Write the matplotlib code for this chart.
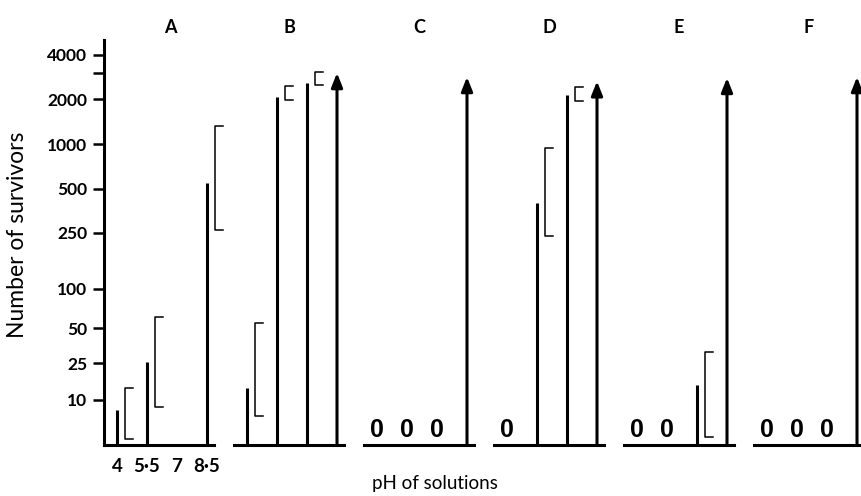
import numpy as np
import matplotlib
matplotlib.use("Agg")
import matplotlib.pyplot as plt

plt.rcParams["font.family"] = ["Lato", "DejaVu Sans"]

PANELS = ["A", "B", "C", "D", "E", "F"]
PH = [4, 5.5, 7, 8.5]
PH_LABELS = ["4", "5·5", "7", "8·5"]

# survivors per pH; None = not shown, "up" = too many (arrow)
COUNTS = [
    [7, 26, None, 550],
    [14, 2080, 2580, "up"],
    [0, 0, 0, "up"],
    [0, 400, 2150, "up"],
    [0, 0, 15, "up"],
    [0, 0, 0, "up"],
]
CI_LOW = [
    [1, 8, None, 260],
    [5.6, 1985, 2500, None],
    [None, None, None, None],
    [None, 237, 1954, None],
    [None, None, 1.3, None],
    [None, None, None, None],
]
CI_HIGH = [
    [14, 61, None, 1330],
    [55, 2460, 3060, None],
    [None, None, None, None],
    [None, 945, 2426, None],
    [None, None, 32, None],
    [None, None, None, None],
]
ARROW_TOP = [None, 3010, 2830, 2650, 2790, 2830]

Y_TICKS = [10, 25, 50, 100, 250, 500, 1000, 2000, 4000]


def fwd(v):
    return np.log10(np.maximum(np.asarray(v, dtype=float) + 10, 1e-3))


def inv(v):
    return 10 ** np.asarray(v, dtype=float) - 10


W, H = 861, 496
fig = plt.figure(figsize=(W / 100, H / 100), dpi=100)

for i, name in enumerate(PANELS):
    ax = fig.add_axes([(104 + 130 * i) / W, (H - 445) / H, 110 / W, 405 / H])
    ax.set_yscale("function", functions=(fwd, inv))
    ax.set_ylim(0, 5000)
    ax.set_xlim(3.35, 8.85)
    for s in ["top", "right"]:
        ax.spines[s].set_visible(False)
    ax.spines["bottom"].set_linewidth(2.2)
    ax.set_title(name, fontsize=13, pad=5, fontweight="bold",
                 x=0.6 if i == 0 else 0.5)

    if i == 0:
        ax.spines["left"].set_linewidth(2.2)
        ax.set_yticks(Y_TICKS)
        ax.set_yticklabels([str(t) for t in Y_TICKS], fontsize=12.5,
                           fontweight="bold")
        ax.set_yticks([3000], minor=True)
        ax.tick_params(axis="y", which="both", length=8, width=1.8, pad=4)
        ax.set_xticks(PH)
        ax.set_xticklabels(PH_LABELS, fontsize=13.5, fontweight="bold")
        ax.tick_params(axis="x", length=0, pad=9)
    else:
        ax.spines["left"].set_visible(False)
        ax.set_yticks([])
        ax.set_yticks([], minor=True)
        ax.set_xticks([])

    for j, ph in enumerate(PH):
        c = COUNTS[i][j]
        if c is None:
            continue
        if c == "up":
            ax.annotate("", xy=(ph, ARROW_TOP[i]), xytext=(ph, 0),
                        arrowprops=dict(arrowstyle="-|>,head_length=0.6,head_width=0.24",
                                        lw=2.2, color="black", shrinkA=0, shrinkB=0,
                                        mutation_scale=14))
        elif c == 0:
            ax.annotate("0", xy=(ph, 0), xytext=(0.15, 2), textcoords="offset points",
                        ha="center", va="bottom", fontsize=18, fontweight="bold",
                        family=["Liberation Sans", "DejaVu Sans"])
        else:
            ax.vlines(ph, 0, c, color="black", lw=2.2)
        lo, hi = CI_LOW[i][j], CI_HIGH[i][j]
        if lo is not None:
            bx = ph + 0.4
            ax.plot([bx + 0.4, bx, bx, bx + 0.4], [lo, lo, hi, hi],
                    color="black", lw=1.1, clip_on=False)

fig.text(18 / W, 1 - 235 / H, "Number of survivors", rotation=90,
         ha="center", va="center", fontsize=16.5)
fig.text(435 / W, 1 - 483 / H, "pH of solutions", ha="center", va="center",
         fontsize=13.5)

fig.savefig("out.png", dpi=100)
